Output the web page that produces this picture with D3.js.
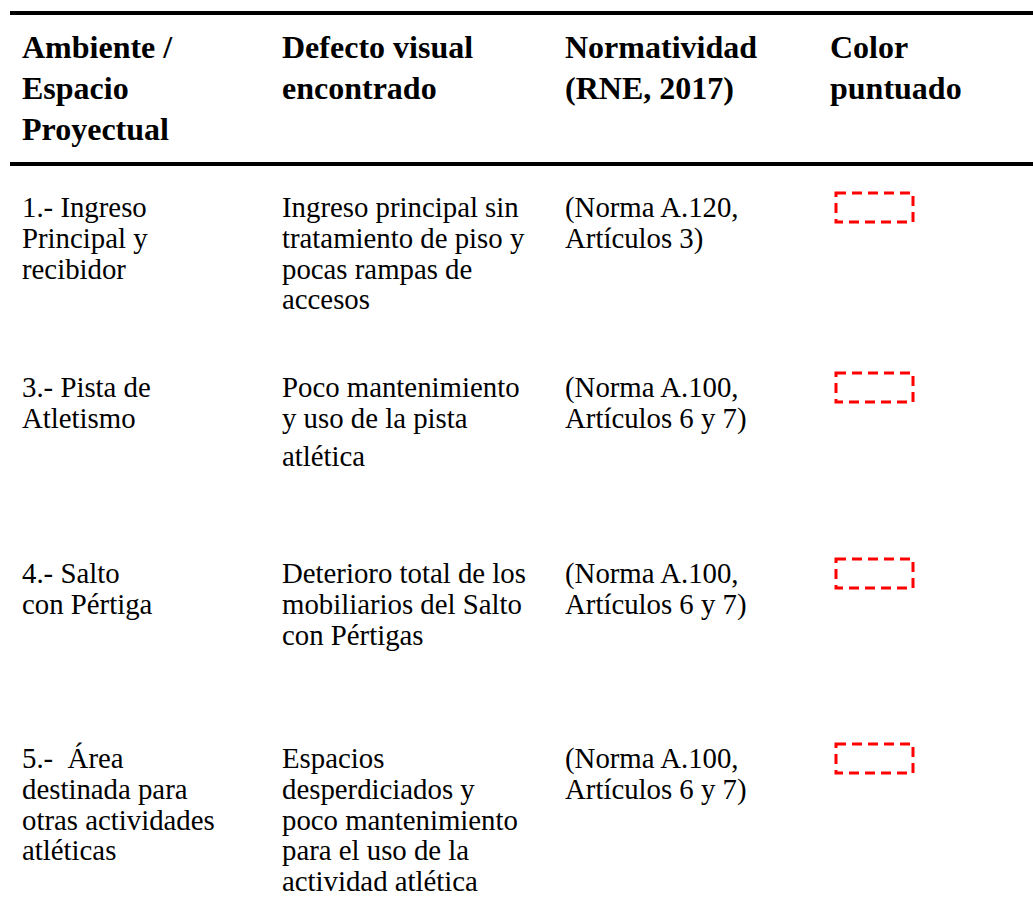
<!DOCTYPE html>
<html>
<head>
<meta charset="utf-8">
<script src="https://cdn.jsdelivr.net/npm/d3@7"></script>
<style>
  html, body { margin: 0; padding: 0; background: #ffffff; }
  svg text { white-space: pre; }
</style>
</head>
<body>
<svg id="chart" width="1033" height="916"></svg>
<script>
// ---- data ----
const headers = [
  ["Ambiente /", "Espacio", "Proyectual"],
  ["Defecto visual", "encontrado"],
  ["Normatividad", "(RNE, 2017)"],
  ["Color", "puntuado"]
];
const ambientes = [
  ["1.- Ingreso", "Principal y", "recibidor"],
  ["3.- Pista de", "Atletismo"],
  ["4.- Salto", "con Pértiga"],
  ["5.-  Área", "destinada para", "otras actividades", "atléticas"]
];
const defectos = [
  ["Ingreso principal sin", "tratamiento de piso y", "pocas rampas de", "accesos"],
  ["Poco mantenimiento", "y uso de la pista", "atlética"],
  ["Deterioro total de los", "mobiliarios del Salto", "con Pértigas"],
  ["Espacios", "desperdiciados y", "poco mantenimiento", "para el uso de la", "actividad atlética"]
];
const normas = [
  ["(Norma A.120,", "Artículos 3)"],
  ["(Norma A.100,", "Artículos 6 y 7)"],
  ["(Norma A.100,", "Artículos 6 y 7)"],
  ["(Norma A.100,", "Artículos 6 y 7)"]
];
const puntuado = [true, true, true, true];

// ---- layout ----
const FONT = "'Liberation Serif', 'Times New Roman', Tinos, 'DejaVu Serif', serif";
const W = 1033, H = 916;
const svg = d3.select("#chart");
svg.append("rect").attr("width", W).attr("height", H).attr("fill", "#fff");

const colX = d3.scaleOrdinal().domain([0, 1, 2, 3]).range([22, 282, 565, 830]);
const rowY = d3.scaleOrdinal().domain([0, 1, 2, 3]).range([217, 397, 583, 768]);
const headLine = d3.scaleLinear().domain([0, 1]).range([58, 99]);
const bodyLine = d3.scaleLinear().domain([0, 1]).range([0, 30.8]);
// extra paragraph spacing seen in the original layout (col-row-line)
const extraGap = { "1-1-2": 7 };

// rules
svg.append("line").attr("x1", 10).attr("x2", W).attr("y1", 13).attr("y2", 13)
  .attr("stroke", "#000").attr("stroke-width", 4);
svg.append("line").attr("x1", 10).attr("x2", W).attr("y1", 164).attr("y2", 164)
  .attr("stroke", "#000").attr("stroke-width", 4);

// headers
const hg = svg.append("g");
headers.forEach((lines, c) => {
  hg.selectAll(null).data(lines).join("text")
    .attr("x", colX(c))
    .attr("y", (d, i) => headLine(i))
    .attr("font-family", FONT)
    .attr("font-size", 32)
    .attr("font-weight", "bold")
    .attr("fill", "#000")
    .text(d => d);
});

// body
const cols = [ambientes, defectos, normas];
const bg = svg.append("g");
cols.forEach((col, c) => {
  col.forEach((lines, r) => {
    bg.selectAll(null).data(lines).join("text")
      .attr("x", colX(c))
      .attr("y", (d, i) => rowY(r) + bodyLine(i) + (extraGap[`${c}-${r}-${i}`] || 0))
      .attr("font-family", FONT)
      .attr("font-size", 28.8)
      .attr("fill", "#000")
      .text(d => d);
  });
});

// dashed boxes
svg.append("g").selectAll("rect").data(puntuado.map((p, i) => ({p, i})).filter(d => d.p)).join("rect")
  .attr("x", 836)
  .attr("y", d => rowY(d.i) - 24)
  .attr("width", 77)
  .attr("height", 29)
  .attr("fill", "none")
  .attr("stroke", "#ff0000")
  .attr("stroke-width", 3)
  .attr("stroke-dasharray", "10,6");
</script>
</body>
</html>
